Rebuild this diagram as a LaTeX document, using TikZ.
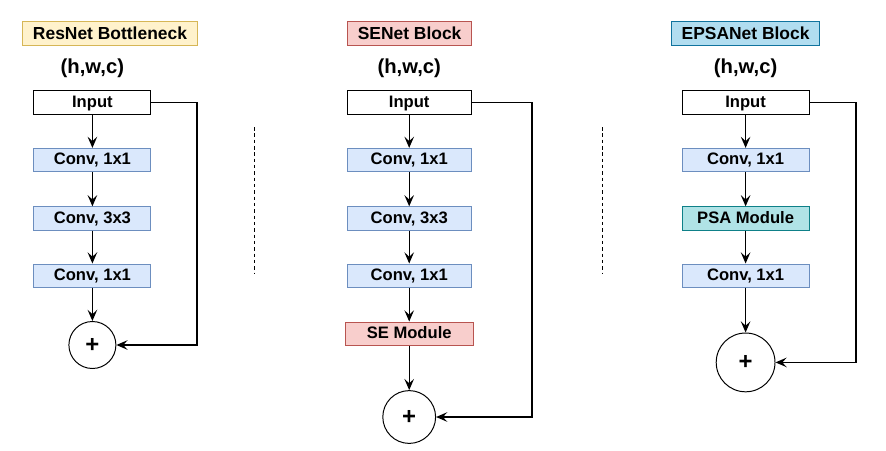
\documentclass[tikz,border=0pt]{standalone}
\usepackage{fontspec}
\setmainfont{Liberation Sans}
\usetikzlibrary{arrows.meta}

\definecolor{convfill}{HTML}{DAE8FC}
\definecolor{convline}{HTML}{6C8EBF}
\definecolor{resfill}{HTML}{FFF2CC}
\definecolor{resline}{HTML}{D6B656}
\definecolor{sefill}{HTML}{F8CECC}
\definecolor{seline}{HTML}{B85450}
\definecolor{epsafill}{HTML}{B1DDF0}
\definecolor{epsaline}{HTML}{10739E}
\definecolor{psafill}{HTML}{B0E3E6}
\definecolor{psaline}{HTML}{0E8088}

\begin{document}
\begin{tikzpicture}[
    font=\fontsize{11.8}{13}\selectfont\bfseries,
    box/.style={draw, line width=0.7pt, minimum height=0.58cm, inner sep=0pt, text depth=0.05cm},
    title/.style={draw, line width=0.7pt, minimum height=0.6cm, inner xsep=0.25cm,
                  font=\fontsize{12.4}{14}\selectfont\bfseries},
    hwc/.style={font=\fontsize{14.4}{16}\selectfont\bfseries},
    sum/.style={draw, circle, line width=0.7pt, inner sep=0pt, font=\fontsize{17}{18}\selectfont\bfseries},
    >={Stealth[length=2.8mm,width=2.4mm,inset=1.1mm]},
    every path/.style={line width=0.9pt}
]
    \useasboundingbox (0,0) rectangle (22.15,-11.25);

    % ResNet Bottleneck
    \node[title, fill=resfill, draw=resline] (t1) at (2.75,-0.825) {ResNet Bottleneck};
    \node[hwc] (h1) at (2.31,-1.7) {(h,w,c)};
    \node[box, minimum width=2.925cm] (in1) at (2.31,-2.5625) {Input};
    \node[box, minimum width=2.925cm, fill=convfill, draw=convline] (a1) at (2.31,-4.0) {Conv, 1x1};
    \node[box, minimum width=2.925cm, fill=convfill, draw=convline] (b1) at (2.31,-5.46) {Conv, 3x3};
    \node[box, minimum width=2.925cm, fill=convfill, draw=convline] (c1) at (2.31,-6.89) {Conv, 1x1};
    \node[sum, minimum size=1.175cm] (s1) at (2.31,-8.625) {+};
    \coordinate (k1) at (4.925,-8.625);
    \draw[->] (in1) -- (a1);
    \draw[->] (a1) -- (b1);
    \draw[->] (b1) -- (c1);
    \draw[->] (c1) -- (s1);
    \draw[->] (in1.east) -| (k1) -- (s1.east);

    \draw[line width=0.7pt, dash pattern=on 2.5pt off 2pt] (6.35,-3.175) -- (6.35,-6.85);

    % SENet Block
    \node[title, fill=sefill, draw=seline] (t2) at (10.24,-0.825) {SENet Block};
    \node[hwc] (h2) at (10.23,-1.7) {(h,w,c)};
    \node[box, minimum width=3.1cm] (in2) at (10.23,-2.5625) {Input};
    \node[box, minimum width=3.1cm, fill=convfill, draw=convline] (a2) at (10.23,-4.0) {Conv, 1x1};
    \node[box, minimum width=3.1cm, fill=convfill, draw=convline] (b2) at (10.23,-5.46) {Conv, 3x3};
    \node[box, minimum width=3.1cm, fill=convfill, draw=convline] (c2) at (10.23,-6.89) {Conv, 1x1};
    \node[box, minimum width=3.2cm, fill=sefill, draw=seline] (se2) at (10.23,-8.34) {SE Module};
    \node[sum, minimum size=1.32cm] (s2) at (10.23,-10.425) {+};
    \coordinate (k2) at (13.3,-10.425);
    \draw[->] (in2) -- (a2);
    \draw[->] (a2) -- (b2);
    \draw[->] (b2) -- (c2);
    \draw[->] (c2) -- (se2);
    \draw[->] (se2) -- (s2);
    \draw[->] (in2.east) -| (k2) -- (s2.east);

    \draw[line width=0.7pt, dash pattern=on 2.5pt off 2pt] (15.05,-3.175) -- (15.05,-6.85);

    % EPSANet Block
    \node[title, fill=epsafill, draw=epsaline] (t3) at (18.64,-0.825) {EPSANet Block};
    \node[hwc] (h3) at (18.64,-1.7) {(h,w,c)};
    \node[box, minimum width=3.175cm] (in3) at (18.64,-2.5625) {Input};
    \node[box, minimum width=3.175cm, fill=convfill, draw=convline] (a3) at (18.64,-4.0) {Conv, 1x1};
    \node[box, minimum width=3.175cm, fill=psafill, draw=psaline] (p3) at (18.64,-5.46) {PSA Module};
    \node[box, minimum width=3.175cm, fill=convfill, draw=convline] (c3) at (18.64,-6.89) {Conv, 1x1};
    \node[sum, minimum size=1.47cm] (s3) at (18.64,-9.06) {+};
    \coordinate (k3) at (21.4,-9.06);
    \draw[->] (in3) -- (a3);
    \draw[->] (a3) -- (p3);
    \draw[->] (p3) -- (c3);
    \draw[->] (c3) -- (s3);
    \draw[->] (in3.east) -| (k3) -- (s3.east);

\end{tikzpicture}
\end{document}
